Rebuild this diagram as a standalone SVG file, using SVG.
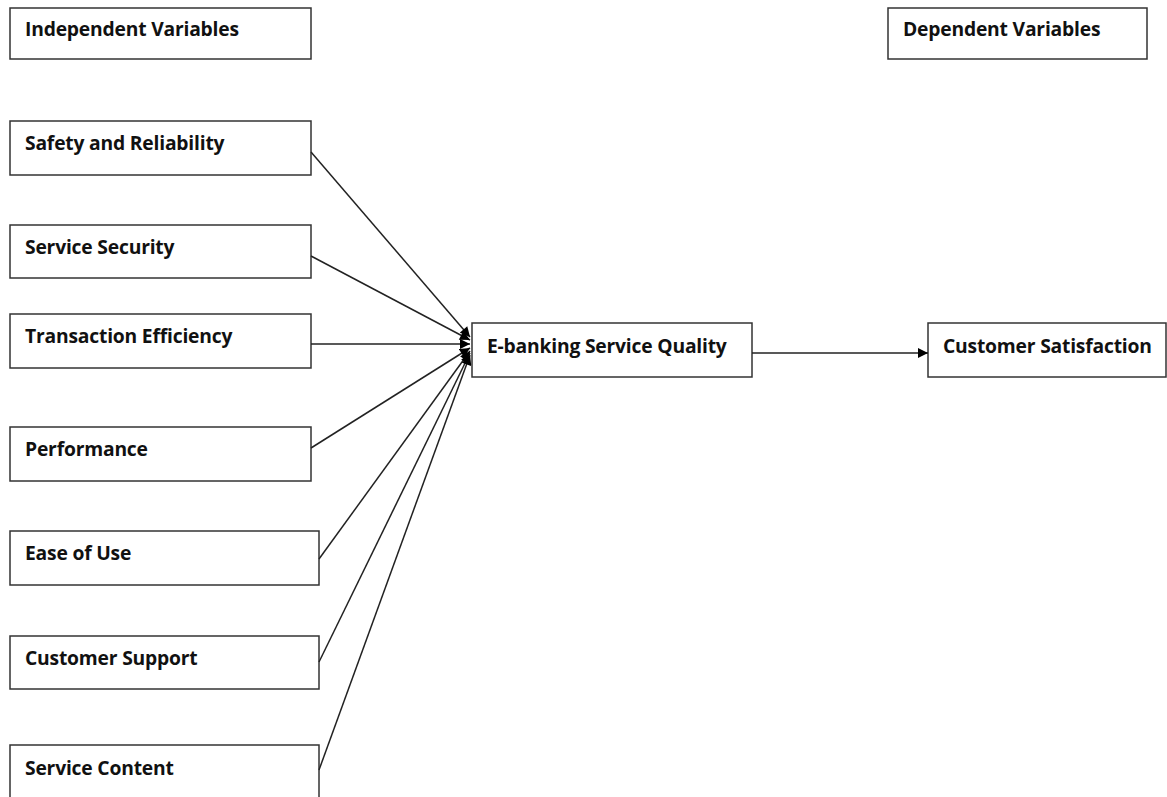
<svg xmlns="http://www.w3.org/2000/svg" width="1167" height="797" viewBox="0 0 1167 797">
<style>
.box{fill:#fff;stroke:#333;stroke-width:1.5}
.lbl{font-family:"Open Sans","Liberation Sans",sans-serif;font-weight:bold;font-size:19.3px;fill:#111;letter-spacing:-0.2px}
.con{stroke:#222;stroke-width:1.5;fill:none;marker-end:url(#arr)}
</style>
<defs>
<marker id="arr" viewBox="0 0 10 10" refX="10" refY="5" markerWidth="11" markerHeight="10" markerUnits="userSpaceOnUse" orient="auto">
<path d="M0,0 L10,5 L0,10 z" fill="#000"/>
</marker>
</defs>
<rect width="1167" height="797" fill="#fff"/>
<g id="iv"><rect class="box" x="10" y="8" width="301" height="51"/><text class="lbl" x="25" y="36">Independent Variables</text></g>
<g id="dv"><rect class="box" x="888" y="8" width="259" height="51"/><text class="lbl" x="903" y="36">Dependent Variables</text></g>
<g id="n1"><rect class="box" x="10" y="121" width="301" height="54"/><text class="lbl" x="25" y="150">Safety and Reliability</text></g>
<g id="n2"><rect class="box" x="10" y="225" width="301" height="53"/><text class="lbl" x="25" y="254">Service Security</text></g>
<g id="n3"><rect class="box" x="10" y="314" width="301" height="54"/><text class="lbl" x="25" y="343">Transaction Efficiency</text></g>
<g id="n4"><rect class="box" x="10" y="427" width="301" height="54"/><text class="lbl" x="25" y="456">Performance</text></g>
<g id="n5"><rect class="box" x="10" y="531" width="309" height="54"/><text class="lbl" x="25" y="560">Ease of Use</text></g>
<g id="n6"><rect class="box" x="10" y="636" width="309" height="53"/><text class="lbl" x="25" y="665">Customer Support</text></g>
<g id="n7"><rect class="box" x="10" y="745" width="309" height="60"/><text class="lbl" x="25" y="775">Service Content</text></g>
<g id="esq"><rect class="box" x="472" y="323" width="280" height="54"/><text class="lbl" x="487" y="353">E-banking Service Quality</text></g>
<g id="cs"><rect class="box" x="928" y="323" width="238" height="54"/><text class="lbl" x="943" y="353">Customer Satisfaction</text></g>
<g id="connectors">
<line class="con" x1="311" y1="152" x2="470" y2="337"/>
<line class="con" x1="311" y1="256" x2="470" y2="340"/>
<line class="con" x1="311" y1="344" x2="470" y2="344"/>
<line class="con" x1="311" y1="448" x2="470" y2="348"/>
<line class="con" x1="319" y1="559" x2="470" y2="351"/>
<line class="con" x1="319" y1="662" x2="470" y2="353"/>
<line class="con" x1="319" y1="770" x2="470" y2="355"/>
<line class="con" x1="752" y1="353" x2="928" y2="353"/>
</g>
</svg>
